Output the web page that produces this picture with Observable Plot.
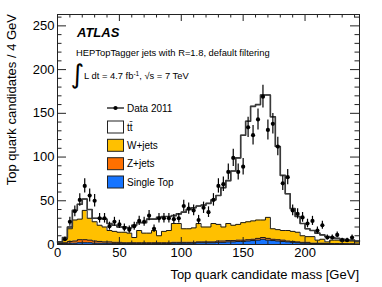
<!DOCTYPE html>
<html><head><meta charset="utf-8">
<script src="https://cdn.jsdelivr.net/npm/d3@7"></script>
<script src="https://cdn.jsdelivr.net/npm/@observablehq/plot@0.6"></script>
<style>
html,body{margin:0;padding:0;background:#fff;}
#chart{width:382px;height:287px;overflow:hidden;}
</style></head><body><div id="chart"></div>
<script>
// ---- data ----
const binEdges = [0,4,8,12,16,20,24,28,32,36,40,44,48,52,56,60,64,68,72,76,80,84,88,92,96,100,104,108,112,116,120,124,128,132,136,140,144,148,152,156,160,164,168,172,176,180,184,188,192,196,200,204,208,212,216,220,224,228,232,236,240,244];
const ttbar = [1,2,2,11,17,13,10,4,8,9,8, 7,6,6,6,14,9,12,16,13,21, 17,16,9,11,19,22,23,20,25,27, 27,33,45,49,62,76,100,115,131,132, 143,140,128,95,63,42,26,18,14,9, 7,8,5,6,3,2,2,1,1,1];
const wjets = [1,4,14.5,24,23.5,33.5,25,22,18.5,17,13, 12.5,11.5,12,11,6,14,11,11,14,8, 13,14,21.5,21.5,15.5,15.5,16.5,21,17,17, 21,19,16,19.5,17.5,18,20,20.5,21,21, 20,24,12,11.5,11,12,11.5,11,7.5,6.5, 7.5,3.5,4.5,2,4,4,3,3.2,3.2,2.5];
const zjets = [0.5,1,2,2.5,3.5,3.5,3,2.5,2,1.5,1.5, 1.5,1.5,1,1,1,1,1,1,1,1,1,1,1,1,1, 1,1,1,1,1,1,1.5,1.5,1.5,1.5,1.5,1.5, 1.5,1.5,2,2,2,1.5,1.5,1.5, 1,1,1,1,1,0.5,0.5,0.5,0.5,0.5,0.5,0.5,0.3,0.3,0.2];
const singleTop = [0.5,1,1.5,1.5,2,2,2,1.5,1.5,1.5,1.5, 1,1,1,1,1,1,1,1,1,1,1,1,1.5,1.5,1.5, 1.5,1.5,2,2,2,2,2.5,2.5,3,3,3.5,3.5, 4,4.5,5,6,5,4.5,4,3.5, 3,2.5,2,1.5,1.5,1,1,1,0.5,0.5,0.5,0.5,0.5,0.5,0.3];
const dataMass = [6,10,14,18,22,26,30,34,38,42,46,50,54,58,62,66,70,74,78,82,86,90,94,98,102,106,110,114,118,122,126,130,134,138,142,146,150,154,158,162,166,170,174,178,182,186,190,194,198,202,206,210,214,218,222,226,230,234,238];
const dataCounts = [6,26,38,51,67,56,50,30,30,21,26,23,19,17,21,27,26,33,18,30,30,30,29,30,44,41,39,28,42,37,51,67,69,83,99,83,89,134,125,143,169,131,138,112,70,77,39,35,31,24,27,16,22,8,8,11,5,5,8];
const processes = ["Single Top", "Z+jets", "W+jets", "tt\u0304"];
const processColors = ["#1674ff", "#ff7000", "#ffc000", "#ffffff"];
const legendOrder = ["tt\u0304", "W+jets", "Z+jets", "Single Top"];
const xTicks = [0,50,100,150,200];
const xMinorTicks = [10,20,30,40,60,70,80,90,110,120,130,140,160,170,180,190,210,220,230,240];
const yTicks = [0,50,100,150,200,250];
const yMinorTicks = [10,20,30,40,60,70,80,90,110,120,130,140,160,170,180,190,210,220,230,240,260];

// ---- layout ----
const W = 382, H = 287, mL = 57, mR = 23, mT = 14, mB = 43;
const fw = W - mL - mR, fh = H - mT - mB;

const series = [singleTop, zjets, wjets, ttbar];
const histRows = [];
processes.forEach((p, j) => {
  const s = series[j];
  for (let i = 0; i < binEdges.length; i++) {
    histRows.push({process: p, x: binEdges[i], y: s[Math.min(i, s.length - 1)]});
  }
});
const dataRows = dataMass.map((m, i) => ({m, n: dataCounts[i]}));

const tickStroke = "#222";
const chart = Plot.plot({
  width: W, height: H,
  marginLeft: mL, marginRight: mR, marginTop: mT, marginBottom: mB,
  style: {fontFamily: "'Liberation Sans', Arial, Helvetica, sans-serif", fontSize: "13px", color: "#000", background: "#fff"},
  x: {domain: [0, 244]},
  y: {domain: [0, 263]},
  color: {domain: processes, range: processColors},
  marks: [
    Plot.areaY(histRows, {x: "x", y: "y", fill: "process", z: "process", curve: "step-after"}),
    Plot.lineY(histRows, Plot.stackY2({x: "x", y: "y", z: "process", curve: "step-after", stroke: "#1a1a1a", strokeWidth: 1})),
    Plot.lineY(histRows, Plot.groupX({y: "sum"}, {x: "x", y: "y", curve: "step-after", stroke: "#3a3a3a", strokeWidth: 1.6})),
    Plot.ruleX(dataRows, {x: "m", y1: d => d.n - Math.sqrt(d.n), y2: d => d.n + Math.sqrt(d.n), stroke: "#000", strokeWidth: 1.2}),
    Plot.dot(dataRows, {x: "m", y: "n", r: 2.1, fill: "#000", stroke: null}),
    // inward ticks on all four sides
    Plot.tickX(xTicks, {x: d => d, insetTop: fh - 7, stroke: tickStroke}),
    Plot.tickX(xMinorTicks, {x: d => d, insetTop: fh - 3.5, stroke: tickStroke}),
    Plot.tickX(xTicks, {x: d => d, insetBottom: fh - 7, stroke: tickStroke}),
    Plot.tickX(xMinorTicks, {x: d => d, insetBottom: fh - 3.5, stroke: tickStroke}),
    Plot.tickY(yTicks, {y: d => d, insetRight: fw - 9, stroke: tickStroke}),
    Plot.tickY(yMinorTicks, {y: d => d, insetRight: fw - 4.5, stroke: tickStroke}),
    Plot.tickY(yTicks, {y: d => d, insetLeft: fw - 9, stroke: tickStroke}),
    Plot.tickY(yMinorTicks, {y: d => d, insetLeft: fw - 4.5, stroke: tickStroke}),
    Plot.axisX({ticks: xTicks, tickSize: 0, tickPadding: 3, label: null}),
    Plot.axisY({ticks: yTicks, tickSize: 0, tickPadding: 3, label: null}),
    Plot.frame({stroke: "#222", strokeWidth: 1})
  ]
});
document.getElementById("chart").appendChild(chart);

const svg = d3.select(chart);
const color = chart.scale("color");
const g = svg.append("g").attr("text-anchor", "start").attr("fill", "#000");

// axis titles
g.append("text")
  .attr("transform", `translate(16,${mT}) rotate(-90)`)
  .attr("text-anchor", "end").attr("font-size", 13)
  .text("Top quark candidates / 4 GeV");
g.append("text")
  .attr("x", W - mR).attr("y", 279)
  .attr("text-anchor", "end").attr("font-size", 13)
  .text("Top quark candidate mass [GeV]");

// annotations
g.append("text").attr("x", 77).attr("y", 37)
  .attr("font-size", 13).attr("font-weight", "bold").attr("font-style", "italic")
  .text("ATLAS");
g.append("text").attr("x", 76).attr("y", 55.5)
  .attr("font-size", 9.4)
  .text("HEPTopTagger jets with R=1.8, default filtering");
g.append("text").attr("x", 70.5).attr("y", 83)
  .attr("font-size", 26).attr("font-family", "'DejaVu Sans', sans-serif")
  .text("\u222B");
const lum = g.append("text").attr("x", 84).attr("y", 79).attr("font-size", 9.4);
lum.append("tspan").text("L dt = 4.7 fb");
lum.append("tspan").attr("dy", -3.5).attr("font-size", 6.5).text("-1");
lum.append("tspan").attr("dy", 3.5).text(", \u221As = 7 TeV");

// legend
const lx = 107, lt = 127;
g.append("line").attr("x1", lx).attr("x2", lx + 17).attr("y1", 108).attr("y2", 108)
  .attr("stroke", "#000").attr("stroke-width", 1.2);
g.append("circle").attr("cx", lx + 8.5).attr("cy", 108).attr("r", 2.1).attr("fill", "#000");
g.append("text").attr("x", lt).attr("y", 111.5).attr("font-size", 10).text("Data 2011");
const boxTops = [121, 139.3, 157.7, 176];
legendOrder.forEach((p, i) => {
  g.append("rect").attr("x", lx + 0.5).attr("y", boxTops[i]).attr("width", 16).attr("height", 12)
    .attr("fill", color.apply(p)).attr("stroke", "#222").attr("stroke-width", 1);
  g.append("text").attr("x", lt).attr("y", boxTops[i] + 9.6).attr("font-size", 10).text(p);
});
</script>
</body></html>
